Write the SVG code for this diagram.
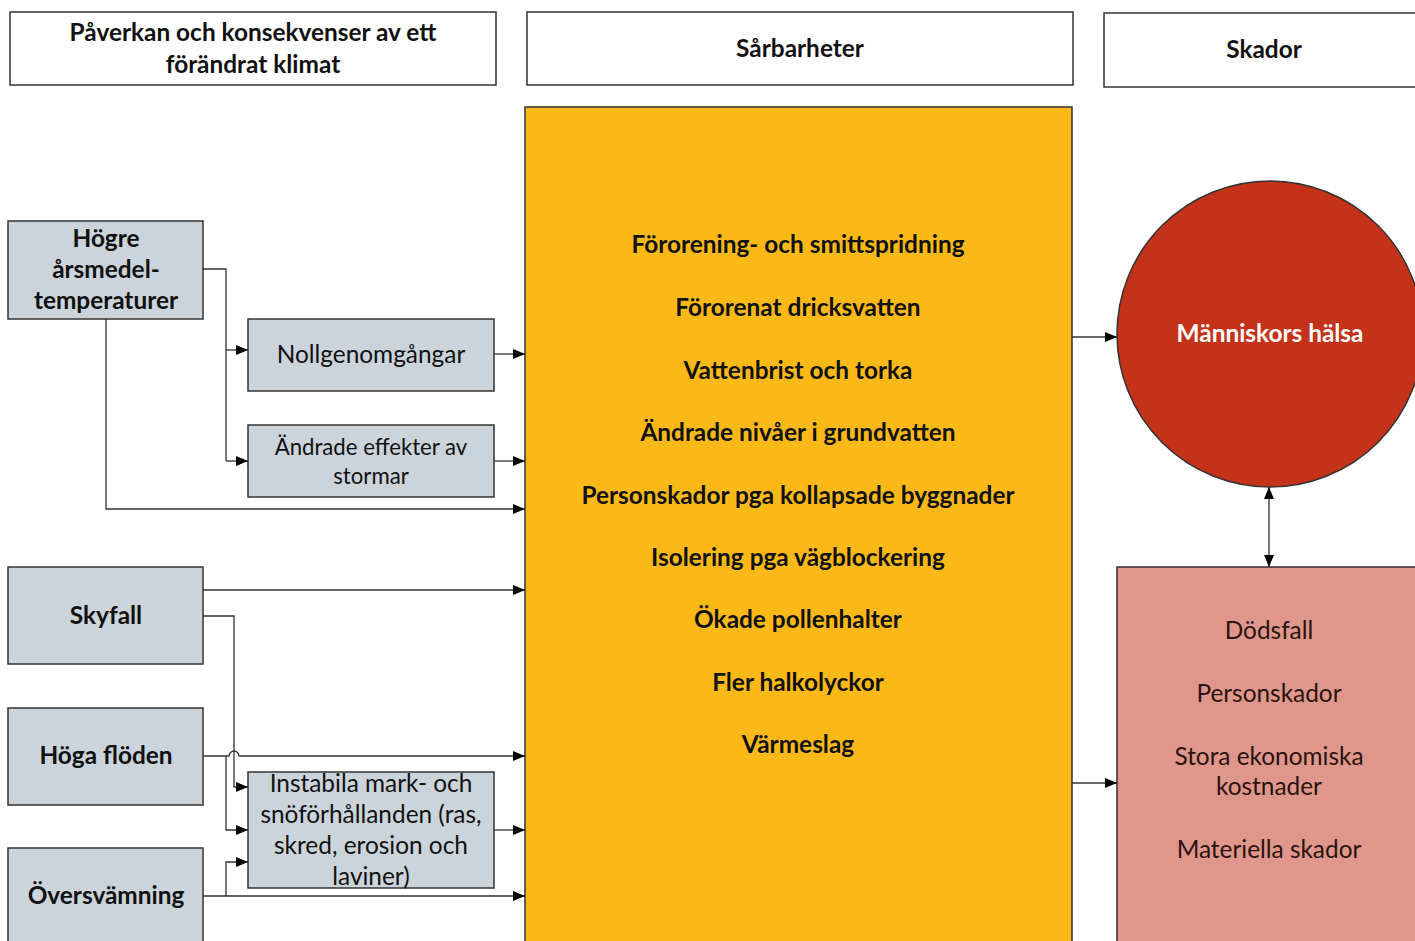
<svg xmlns="http://www.w3.org/2000/svg" width="1415" height="941" viewBox="0 0 1415 941">
<defs>
<marker id="ah" markerWidth="12" markerHeight="10" refX="12" refY="5" orient="auto" markerUnits="userSpaceOnUse"><path d="M0,0 L12,5 L0,10 z" fill="#000"/></marker>
<marker id="ahs" markerWidth="12" markerHeight="10" refX="12" refY="5" orient="auto-start-reverse" markerUnits="userSpaceOnUse"><path d="M0,0 L12,5 L0,10 z" fill="#000"/></marker>
<style>
.hdr{fill:#fff;stroke:#333;stroke-width:1.5}
.grey{fill:#CBD4DA;stroke:#333;stroke-width:1.5}
.t{font-family:Lato,"Liberation Sans",sans-serif;fill:#111;text-anchor:middle;font-size:24.4px}
.b{font-weight:bold}
.c{fill:none;stroke:#333;stroke-width:1.3}
.ca{fill:none;stroke:#333;stroke-width:1.3;marker-end:url(#ah)}
</style>
</defs>
<rect width="1415" height="941" fill="#fff"/>

<g id="hdr1"><rect class="hdr" x="10" y="12" width="486" height="73"/>
<text class="t b" x="253" y="41">Påverkan och konsekvenser av ett</text>
<text class="t b" x="253" y="73">förändrat klimat</text></g>
<g id="hdr2"><rect class="hdr" x="527" y="12" width="546" height="73"/>
<text class="t b" x="800" y="57">Sårbarheter</text></g>
<g id="hdr3"><rect class="hdr" x="1104" y="13" width="320" height="74"/>
<text class="t b" x="1264" y="58">Skador</text></g>

<g id="sarbarheter"><rect x="525" y="107" width="547" height="850" fill="#FBB917" stroke="#333" stroke-width="1.5"/>
<g class="t b">
<text x="798" y="253">Förorening- och smittspridning</text>
<text x="798" y="316">Förorenat dricksvatten</text>
<text x="798" y="379">Vattenbrist och torka</text>
<text x="798" y="441">Ändrade nivåer i grundvatten</text>
<text x="798" y="504">Personskador pga kollapsade byggnader</text>
<text x="798" y="566">Isolering pga vägblockering</text>
<text x="798" y="628">Ökade pollenhalter</text>
<text x="798" y="691">Fler halkolyckor</text>
<text x="798" y="753">Värmeslag</text>
</g></g>

<g id="hogre"><rect class="grey" x="8" y="221" width="195" height="98"/>
<g class="t b"><text x="106" y="247">Högre</text><text x="106" y="278">årsmedel-</text><text x="106" y="309">temperaturer</text></g></g>
<g id="noll"><rect class="grey" x="248" y="319" width="246" height="72"/>
<text class="t" x="371" y="363">Nollgenomgångar</text></g>
<g id="andrade"><rect class="grey" x="248" y="425" width="246" height="72"/>
<text class="t" x="371" y="455" style="font-size:22.2px">Ändrade effekter av</text><text class="t" x="371" y="484" style="font-size:22.2px">stormar</text></g>
<g id="skyfall"><rect class="grey" x="8" y="567" width="195" height="97"/>
<text class="t b" x="106" y="624">Skyfall</text></g>
<g id="hoga"><rect class="grey" x="8" y="708" width="195" height="97"/>
<text class="t b" x="106" y="764">Höga flöden</text></g>
<g id="oversvamning"><rect class="grey" x="8" y="848" width="195" height="110"/>
<text class="t b" x="106" y="904">Översvämning</text></g>
<g id="instabila"><rect class="grey" x="248" y="772" width="246" height="116"/>
<g class="t"><text x="371" y="792">Instabila mark- och</text><text x="371" y="823">snöförhållanden (ras,</text><text x="371" y="854">skred, erosion och</text><text x="371" y="885">laviner)</text></g></g>

<g id="halsa"><circle cx="1270" cy="334" r="153" fill="#C4321A" stroke="#333" stroke-width="1.5"/>
<text class="t b" x="1270" y="342" style="fill:#fff">Människors hälsa</text></g>
<g id="skador"><rect x="1117" y="567" width="310" height="390" fill="#E0978B" stroke="#333" stroke-width="1.5"/>
<g class="t" style="fill:#2a1210"><text x="1269" y="639">Dödsfall</text><text x="1269" y="702">Personskador</text><text x="1269" y="765">Stora ekonomiska</text><text x="1269" y="795">kostnader</text><text x="1269" y="858">Materiella skador</text></g></g>

<g id="connectors">
<path class="c" d="M203,269 H226 V461"/>
<path class="ca" d="M226,350 H248"/>
<path class="ca" d="M226,461 H248"/>
<path class="ca" d="M106,319 V509 H525"/>
<path class="ca" d="M494,354 H525"/>
<path class="ca" d="M494,461 H525"/>
<path class="ca" d="M203,590 H525"/>
<path class="ca" d="M203,616 H234 V787 H248"/>
<path class="ca" d="M203,756 H229 A5,5 0 0 1 239,756 H525"/>
<path class="ca" d="M226,756 V830 H248"/>
<path class="ca" d="M203,896 H525"/>
<path class="ca" d="M226,896 V862 H248"/>
<path class="ca" d="M494,830 H525"/>
<path class="ca" d="M1072,337 H1117"/>
<path class="ca" d="M1072,783 H1117"/>
<path class="c" d="M1269,487 V567" style="marker-start:url(#ahs);marker-end:url(#ah)"/>
</g>
</svg>
